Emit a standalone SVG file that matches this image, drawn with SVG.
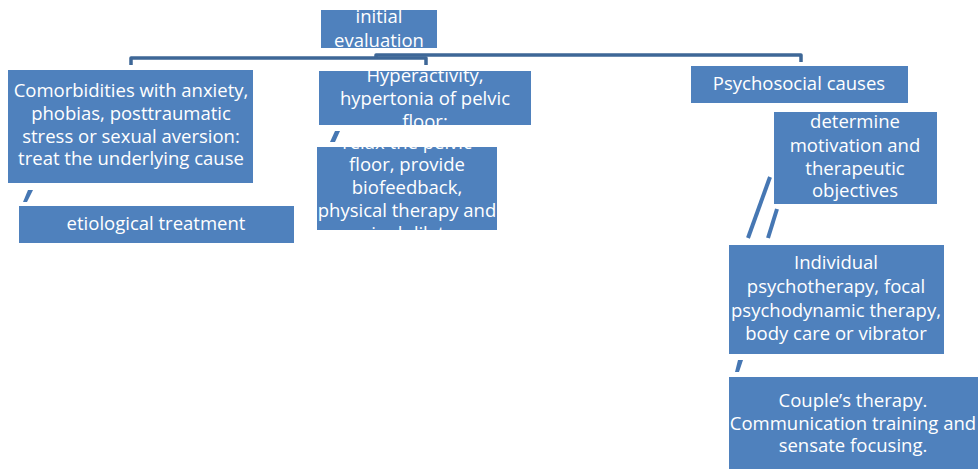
<svg xmlns="http://www.w3.org/2000/svg" width="979" height="469" viewBox="0 0 979 469">
<style>
.box{fill:#4f81bd}
.t{font-family:"Open Sans","Liberation Sans",sans-serif;font-size:18.5px;fill:#ffffff;text-anchor:middle}
.conn{fill:none;stroke:#3e6797;stroke-width:3.5;stroke-linejoin:round}
.tick{fill:#4677b3}
.sl{stroke:#4677b3;stroke-width:4;fill:none}
</style>
<defs>
<clipPath id="c1"><rect x="321" y="10" width="116" height="38"/></clipPath>
<clipPath id="c2"><rect x="319" y="71" width="212" height="54"/></clipPath>
<clipPath id="c3"><rect x="317" y="147" width="180" height="83"/></clipPath>
</defs>
<rect width="979" height="469" fill="#ffffff"/>
<g id="connectors">
<path class="conn" d="M131,65 V58 H426 V65"/>
<path class="conn" d="M376,59 V55 H801 V62"/>
<polygon class="tick" points="28,190 33,190 27,202 23,202"/>
<polygon class="tick" points="335,131 340,131 335,142 330,142"/>
<polygon class="tick" points="738,360 743,360 739,372 735,372"/>
<line class="sl" x1="770" y1="177" x2="748" y2="238"/>
<line class="sl" x1="777" y1="209" x2="768" y2="238"/>
</g>
<g id="initial">
<rect class="box" x="321" y="10" width="116" height="38"/>
<g clip-path="url(#c1)"><text class="t" x="379" y="23">initial</text><text class="t" x="379" y="46.5">evaluation</text></g>
</g>
<g id="comorbidities">
<rect class="box" x="8" y="70" width="245" height="113"/>
<text class="t" x="131" y="97">Comorbidities with anxiety,</text>
<text class="t" x="131" y="120">phobias, posttraumatic</text>
<text class="t" x="131" y="142.5">stress or sexual aversion:</text>
<text class="t" x="131" y="165">treat the underlying cause</text>
</g>
<g id="etiological">
<rect class="box" x="19" y="206" width="275" height="37"/>
<text class="t" x="156" y="230">etiological treatment</text>
</g>
<g id="hyperactivity">
<rect class="box" x="319" y="71" width="212" height="54"/>
<g clip-path="url(#c2)"><text class="t" x="425" y="82">Hyperactivity,</text><text class="t" x="425" y="105">hypertonia of pelvic</text><text class="t" x="425" y="128">floor:</text></g>
</g>
<g id="relax">
<rect class="box" x="317" y="147" width="180" height="83"/>
<g clip-path="url(#c3)"><text class="t" x="407" y="148.5">relax the pelvic</text><text class="t" x="407" y="171">floor, provide</text><text class="t" x="407" y="193.5">biofeedback,</text><text class="t" x="407" y="216.5">physical therapy and</text><text class="t" x="407" y="239.5">vaginal dilators</text></g>
</g>
<g id="psychosocial">
<rect class="box" x="691" y="66" width="217" height="37"/>
<text class="t" x="799" y="90">Psychosocial causes</text>
</g>
<g id="determine">
<rect class="box" x="774" y="112" width="163" height="92"/>
<text class="t" x="855" y="128">determine</text>
<text class="t" x="855" y="151.5">motivation and</text>
<text class="t" x="855" y="174.5">therapeutic</text>
<text class="t" x="855" y="197">objectives</text>
</g>
<g id="individual">
<rect class="box" x="729" y="245" width="215" height="109"/>
<text class="t" x="836" y="269">Individual</text>
<text class="t" x="836" y="293">psychotherapy, focal</text>
<text class="t" x="836" y="316.5">psychodynamic therapy,</text>
<text class="t" x="836" y="340">body care or vibrator</text>
</g>
<g id="couples">
<rect class="box" x="729" y="377" width="249" height="92"/>
<text class="t" x="853" y="407">Couple’s therapy.</text>
<text class="t" x="853" y="429.5">Communication training and</text>
<text class="t" x="853" y="452">sensate focusing.</text>
</g>
</svg>
